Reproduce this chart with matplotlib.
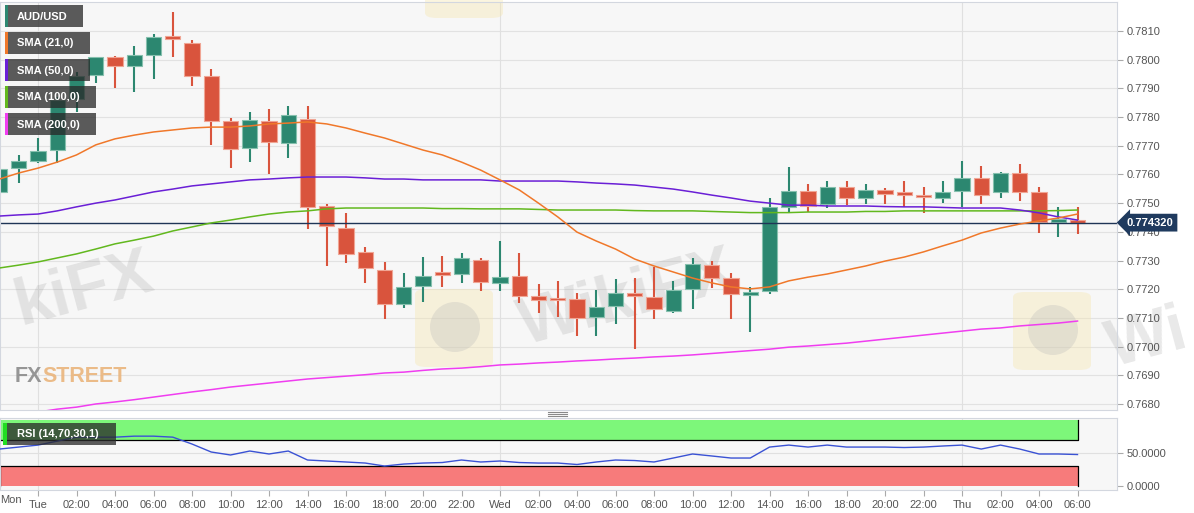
import numpy as np
import matplotlib.pyplot as plt
from matplotlib.patches import Rectangle, FancyBboxPatch, Ellipse
from matplotlib.lines import Line2D

plt.rcParams['font.family'] = ['Liberation Sans', 'DejaVu Sans']

# hourly candles, hours counted from Tue 00:00 (Mon 22:00 .. Thu 06:00)
hours = np.arange(-2, 55)

opens = [0.77539, 0.77622, 0.77647, 0.77685, 0.77863, 0.77947, 0.78009, 0.77978, 0.78016, 0.78083,
         0.78058, 0.77943, 0.77786, 0.77692, 0.77786, 0.77710, 0.77793, 0.77490, 0.77413, 0.77330,
         0.77267, 0.77148, 0.77211, 0.77257, 0.77253, 0.77302, 0.77222, 0.77246, 0.77176, 0.77164,
         0.77166, 0.77103, 0.77141, 0.77187, 0.77173, 0.77124, 0.77200, 0.77284, 0.77239, 0.77180,
         0.77194, 0.77486, 0.77542, 0.77497, 0.77556, 0.77518, 0.77546, 0.77534, 0.77523, 0.77518,
         0.77542, 0.77588, 0.77539, 0.77605, 0.77539, 0.77434, 0.77441]
highs = [0.77636, 0.77668, 0.77727, 0.77870, 0.77957, 0.78010, 0.78013, 0.78048, 0.78090, 0.78166,
         0.78069, 0.77968, 0.77797, 0.77818, 0.77828, 0.77839, 0.77839, 0.77497, 0.77466, 0.77347,
         0.77295, 0.77257, 0.77312, 0.77316, 0.77326, 0.77309, 0.77368, 0.77326, 0.77218, 0.77229,
         0.77187, 0.77197, 0.77236, 0.77240, 0.77277, 0.77228, 0.77309, 0.77298, 0.77256, 0.77207,
         0.77518, 0.77626, 0.77566, 0.77577, 0.77577, 0.77567, 0.77553, 0.77577, 0.77556, 0.77577,
         0.77647, 0.77630, 0.77609, 0.77636, 0.77556, 0.77487, 0.77487]
lows = [0.77514, 0.77570, 0.77640, 0.77640, 0.77817, 0.77918, 0.77901, 0.77887, 0.77933, 0.78010,
        0.77908, 0.77703, 0.77623, 0.77644, 0.77602, 0.77658, 0.77410, 0.77281, 0.77291, 0.77221,
        0.77097, 0.77135, 0.77155, 0.77207, 0.77221, 0.77193, 0.77193, 0.77152, 0.77117, 0.77103,
        0.77037, 0.77037, 0.77079, 0.76993, 0.77097, 0.77117, 0.77131, 0.77204, 0.77097, 0.77051,
        0.77183, 0.77469, 0.77469, 0.77483, 0.77493, 0.77497, 0.77497, 0.77487, 0.77466, 0.77500,
        0.77487, 0.77497, 0.77518, 0.77507, 0.77396, 0.77382, 0.77393]
closes = [0.77619, 0.77647, 0.77682, 0.77859, 0.77943, 0.78009, 0.77979, 0.78016, 0.78079, 0.78072,
          0.77943, 0.77786, 0.77689, 0.77790, 0.77714, 0.77807, 0.77486, 0.77420, 0.77323, 0.77274,
          0.77148, 0.77207, 0.77245, 0.77251, 0.77309, 0.77225, 0.77242, 0.77176, 0.77162, 0.77161,
          0.77100, 0.77138, 0.77187, 0.77176, 0.77131, 0.77197, 0.77288, 0.77239, 0.77183, 0.77190,
          0.77486, 0.77542, 0.77490, 0.77556, 0.77518, 0.77545, 0.77531, 0.77530, 0.77520, 0.77538,
          0.77588, 0.77528, 0.77605, 0.77539, 0.77434, 0.77441, 0.77432]

sma21 = [0.77584, 0.77605, 0.77622, 0.77643, 0.77668, 0.77703, 0.77724, 0.77737, 0.77748, 0.77755,
         0.77762, 0.77765, 0.77765, 0.77769, 0.77776, 0.77779, 0.77783, 0.77776, 0.77762, 0.77744,
         0.77727, 0.77706, 0.77685, 0.77668, 0.77643, 0.77615, 0.77581, 0.77546, 0.77500, 0.77452,
         0.77399, 0.77368, 0.77340, 0.77305, 0.77281, 0.77260, 0.77239, 0.77222, 0.77208, 0.77201,
         0.77208, 0.77229, 0.77242, 0.77253, 0.77267, 0.77281, 0.77298, 0.77312, 0.77330, 0.77351,
         0.77371, 0.77396, 0.77413, 0.77427, 0.77438, 0.77448, 0.77462]
sma50 = [0.77455, 0.77459, 0.77462, 0.77473, 0.77487, 0.77500, 0.77511, 0.77525, 0.77539, 0.77549,
         0.77560, 0.77567, 0.77574, 0.77581, 0.77584, 0.77588, 0.77591, 0.77591, 0.77591, 0.77588,
         0.77584, 0.77584, 0.77581, 0.77581, 0.77581, 0.77581, 0.77577, 0.77577, 0.77577, 0.77577,
         0.77574, 0.77570, 0.77567, 0.77563, 0.77556, 0.77549, 0.77539, 0.77528, 0.77518, 0.77507,
         0.77500, 0.77493, 0.77493, 0.77490, 0.77490, 0.77490, 0.77488, 0.77487, 0.77487, 0.77485,
         0.77483, 0.77483, 0.77483, 0.77476, 0.77466, 0.77452, 0.77441]
sma100 = [0.77274, 0.77284, 0.77295, 0.77309, 0.77323, 0.77340, 0.77358, 0.77371, 0.77385, 0.77403,
          0.77417, 0.77431, 0.77441, 0.77452, 0.77462, 0.77469, 0.77473, 0.77480, 0.77483, 0.77483,
          0.77483, 0.77483, 0.77483, 0.77481, 0.77481, 0.77480, 0.77480, 0.77480, 0.77478, 0.77476,
          0.77476, 0.77476, 0.77476, 0.77474, 0.77473, 0.77473, 0.77473, 0.77471, 0.77469, 0.77467,
          0.77467, 0.77467, 0.77469, 0.77469, 0.77469, 0.77471, 0.77471, 0.77473, 0.77473, 0.77473,
          0.77473, 0.77473, 0.77473, 0.77473, 0.77473, 0.77474, 0.77476]
sma200 = [0.76754, 0.76765, 0.76772, 0.76782, 0.76789, 0.76800, 0.76807, 0.76815, 0.76824, 0.76833,
          0.76842, 0.76850, 0.76859, 0.76866, 0.76873, 0.76880, 0.76887, 0.76892, 0.76897, 0.76902,
          0.76908, 0.76911, 0.76917, 0.76922, 0.76925, 0.76930, 0.76936, 0.76939, 0.76943, 0.76946,
          0.76950, 0.76953, 0.76957, 0.76960, 0.76964, 0.76967, 0.76971, 0.76976, 0.76981, 0.76986,
          0.76991, 0.76998, 0.77002, 0.77007, 0.77012, 0.77019, 0.77026, 0.77033, 0.77040, 0.77047,
          0.77054, 0.77061, 0.77065, 0.77072, 0.77077, 0.77082, 0.77089]

rsi = [56.0, 59.0, 62.0, 68.0, 74.0, 74.0, 74.0, 75.5, 75.5, 74.0,
       63.6, 51.5, 47.0, 53.0, 48.5, 53.0, 39.4, 37.9, 36.4, 34.8,
       30.3, 33.3, 34.8, 35.6, 39.4, 36.4, 37.9, 35.6, 34.8, 34.8,
       32.6, 36.4, 39.4, 38.6, 36.4, 42.4, 48.5, 45.5, 42.4, 42.4,
       59.0, 62.0, 59.0, 62.0, 59.0, 59.0, 59.0, 58.3, 59.0, 60.6,
       62.0, 56.0, 62.0, 56.0, 48.5, 48.5, 47.7]

last_price = 0.774320
price_ticks = [0.7680, 0.7690, 0.7700, 0.7710, 0.7720, 0.7730, 0.7740,
               0.7750, 0.7760, 0.7770, 0.7780, 0.7790, 0.7800, 0.7810]
day_starts = [0, 24, 48]
time_ticks = list(range(0, 55, 2))
time_labels = ['Tue', '02:00', '04:00', '06:00', '08:00', '10:00', '12:00', '14:00', '16:00',
               '18:00', '20:00', '22:00', 'Wed', '02:00', '04:00', '06:00', '08:00', '10:00',
               '12:00', '14:00', '16:00', '18:00', '20:00', '22:00', 'Thu', '02:00', '04:00', '06:00']
legend_items = [('AUD/USD', '#2c8770'), ('SMA (21,0)', '#f0782a'), ('SMA (50,0)', '#6a1fd6'),
                ('SMA (100,0)', '#62b81e'), ('SMA (200,0)', '#f03df0')]

W, H = 1194, 513
fig = plt.figure(figsize=(W / 100, H / 100), dpi=100)
fig.patch.set_facecolor('white')


def fx(x):
    return x / W


def fy(y):
    return 1 - y / H


x_left = -38 / 19.25
x_right = (1117 - 38) / 19.25
up_c, dn_c = '#2c8770', '#d9543d'
frame_c = '#d3d7df'
txt_c = '#555555'

# ---- price pane
ax = fig.add_axes([0, fy(410), fx(1117), (410 - 2) / H])
ax.set_facecolor('#f7f7f7')
ax.set_xlim(x_left, x_right)
ax.set_ylim(0.76779, 0.78201)
for p in price_ticks:
    ax.axhline(p, color='#e2e2e2', lw=0.8, zorder=0.6)
for d in day_starts:
    ax.axvline(d, color='#e0e0e0', lw=0.8, zorder=0.6)

for h, o, hi, lo, c in zip(hours, opens, highs, lows, closes):
    col = up_c if c >= o else dn_c
    edge = '#86c0ae' if c >= o else '#f0a594'
    ax.vlines(h, lo, hi, color=col, lw=1.5, zorder=2)
    bh = max(abs(c - o), 0.00009)
    ax.add_patch(Rectangle((h - 0.39, min(o, c)), 0.78, bh, facecolor=col,
                           edgecolor=edge, lw=0.8, zorder=2.2))

ax.plot(hours, sma200, color='#f03df0', lw=1.1, zorder=3)
ax.plot(hours, sma100, color='#62b81e', lw=1.1, zorder=3)
ax.plot(hours, sma50, color='#6a1fd6', lw=1.1, zorder=3)
ax.plot(hours, sma21, color='#f0782a', lw=1.1, zorder=3)
ax.axhline(last_price, color='#1f3556', lw=1.0, zorder=2.5)

ax.yaxis.tick_right()
ax.set_yticks(price_ticks)
ax.set_yticklabels(['%.4f' % p for p in price_ticks])
ax.tick_params(axis='y', length=4, width=0.8, color='#aaaaaa', labelsize=8,
               labelcolor=txt_c, pad=3)
ax.tick_params(axis='x', length=0, labelbottom=False)
for s in ax.spines.values():
    s.set_color(frame_c)
    s.set_linewidth(0.8)

ax.annotate('%.6f' % last_price, xy=(1, last_price), xycoords=('axes fraction', 'data'),
            xytext=(7, 0), textcoords='offset points', ha='left', va='center',
            color='white', fontsize=8, fontweight='bold', annotation_clip=False,
            bbox=dict(boxstyle='larrow,pad=0.35', fc='#1f3a5e', ec='none'), zorder=6)

# ---- watermarks
for cx, cy, word in [(84, 290, 'kiFX'), (628, 300, 'WikiFX'), (1148, 340, 'Wi')]:
    ax.text(fx(cx), fy(cy), word, transform=fig.transFigure, rotation=15,
            fontsize=48, fontweight='bold', color='#8f8f8f', alpha=0.2,
            ha='center', va='center', clip_on=False, zorder=0.7)
for lx, ly, mark in [(415, 287, True), (1013, 290, True), (425, -62, False)]:
    ax.add_patch(FancyBboxPatch((fx(lx), fy(ly + 80)), 78 / W, 78 / H, transform=fig.transFigure,
                                boxstyle='round,pad=0,rounding_size=0.01', fc='#f6e6b0',
                                ec='none', alpha=0.4, clip_on=False, zorder=0.65))
    if mark:
        ax.add_patch(Ellipse((fx(lx + 40), fy(ly + 40)), 50 / W, 50 / H, transform=fig.transFigure,
                             fc='#b8b8b8', ec='none', alpha=0.3, clip_on=False, zorder=0.66))

t_fx = fig.text(fx(15), fy(377), 'FX', fontweight='bold', fontsize=15.5, color='#8c8c8c',
                alpha=0.9, va='center', ha='left')
fig.canvas.draw()
bb = t_fx.get_window_extent()
fig.text(bb.x1 / W, fy(377), 'STREET', fontweight='bold', fontsize=15.5, color='#eab57c',
         alpha=0.9, va='center', ha='left')

# ---- legend boxes
box_w = [78, 85, 85, 91, 91]
for i, (lab, col) in enumerate(legend_items):
    y0 = 5 + 27 * i
    fig.add_artist(Rectangle((fx(5), fy(y0 + 22)), box_w[i] / W, 22 / H, transform=fig.transFigure,
                             fc='#292929', alpha=0.76, ec='none', zorder=5))
    fig.add_artist(Rectangle((fx(5), fy(y0 + 22)), 3 / W, 22 / H, transform=fig.transFigure,
                             fc=col, ec='none', zorder=5.1))
    fig.text(fx(17), fy(y0 + 11.5), lab, color='white', fontsize=8, fontweight='bold',
             va='center', ha='left', zorder=6)

# ---- RSI pane
rx = fig.add_axes([0, fy(490), fx(1117), (490 - 418) / H])
rx.set_facecolor('#f7f7f7')
rx.set_xlim(x_left, x_right)
rx.set_ylim(-6, 103)
rx.axhline(50, color='#e0e0e0', lw=0.8, zorder=0.6)
for d in day_starts:
    rx.axvline(d, color='#e0e0e0', lw=0.8, zorder=0.6)
rx.fill_between([x_left, hours[-1]], 70, 100, color='#7df77a', lw=0, zorder=1)
rx.fill_between([x_left, hours[-1]], 0, 30, color='#f77b7b', lw=0, zorder=1)
rx.plot([x_left, hours[-1], hours[-1]], [70, 70, 100], color='black', lw=0.9, zorder=1.5)
rx.plot([x_left, hours[-1], hours[-1]], [30, 30, 0], color='black', lw=0.9, zorder=1.5)
rx.plot([x_left + 0.02, x_left + 0.02], [0, 30], color='black', lw=0.9, zorder=1.5)
rx.plot(hours, rsi, color='#3a52d4', lw=1.0, zorder=3)

rx.yaxis.tick_right()
rx.set_yticks([0, 50])
rx.set_yticklabels(['0.0000', '50.0000'])
rx.set_xticks(time_ticks)
rx.set_xticklabels(time_labels)
rx.tick_params(axis='both', length=4, width=0.8, color='#aaaaaa', labelsize=8,
               labelcolor=txt_c, pad=3)
for s in rx.spines.values():
    s.set_color(frame_c)
    s.set_linewidth(0.8)

fig.add_artist(Rectangle((fx(3), fy(445)), 113 / W, 22 / H, transform=fig.transFigure,
                         fc='#292929', alpha=0.76, ec='none', zorder=5))
fig.add_artist(Rectangle((fx(3), fy(445)), 4 / W, 22 / H, transform=fig.transFigure,
                         fc='#22dd22', ec='none', zorder=5.1))
fig.text(fx(17), fy(434), 'RSI (14,70,30,1)', color='white', fontsize=8, fontweight='bold',
         va='center', ha='left', zorder=6)

fig.text(fx(0), fy(500), 'Mon', color=txt_c, fontsize=8, va='center', ha='left')

# pane separator handle
for yy in [411.5, 413.5, 415.5]:
    fig.add_artist(Line2D([fx(548), fx(567)], [fy(yy), fy(yy)], transform=fig.transFigure,
                          color='#8a8a8a', lw=0.8))

fig.savefig('out.png', dpi=100)
